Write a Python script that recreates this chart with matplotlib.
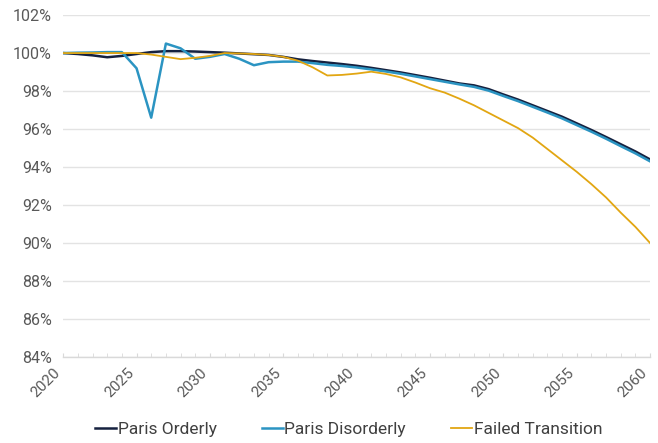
import matplotlib
matplotlib.use("Agg")
import matplotlib.pyplot as plt
import matplotlib.transforms as mtransforms
from matplotlib.ticker import FuncFormatter, MultipleLocator

plt.rcParams['font.family'] = ['Roboto', 'DejaVu Sans']

years = list(range(2020, 2061))

paris_orderly = [
    100.00, 99.95, 99.88, 99.78, 99.85, 99.95, 100.05, 100.10, 100.10, 100.08,
    100.05, 100.02, 99.98, 99.94, 99.90, 99.80, 99.67, 99.58, 99.50, 99.42,
    99.33, 99.22, 99.10, 98.98, 98.84, 98.70, 98.55, 98.40, 98.30, 98.10,
    97.82, 97.55, 97.25, 96.95, 96.65, 96.30, 95.95, 95.58, 95.20, 94.82,
    94.40,
]
paris_disorderly = [
    100.00, 100.02, 100.03, 100.05, 100.05, 99.20, 96.60, 100.50, 100.25, 99.70,
    99.80, 99.95, 99.70, 99.36, 99.52, 99.55, 99.55, 99.47, 99.38, 99.32,
    99.24, 99.14, 99.03, 98.91, 98.77, 98.63, 98.49, 98.35, 98.22, 98.02,
    97.74, 97.47, 97.17, 96.87, 96.56, 96.21, 95.86, 95.49, 95.10, 94.72,
    94.30,
]
failed_transition = [
    100.00, 100.00, 100.00, 100.00, 100.00, 100.00, 99.92, 99.80, 99.68, 99.75,
    99.85, 100.00, 99.98, 99.95, 99.90, 99.80, 99.60, 99.25, 98.82, 98.85,
    98.92, 99.02, 98.90, 98.72, 98.45, 98.15, 97.92, 97.60, 97.25, 96.85,
    96.45, 96.05, 95.55, 94.95, 94.35, 93.75, 93.10, 92.40, 91.60, 90.85,
    90.00,
]

fig = plt.figure(figsize=(6.58, 4.43), dpi=100)
ax = fig.add_axes([0.096, 0.194, 0.892, 0.772])

ax.plot(years, paris_orderly, color='#15213f', linewidth=1.8,
        label='Paris Orderly')
ax.plot(years, paris_disorderly, color='#2b94c2', linewidth=1.8,
        label='Paris Disorderly')
ax.plot(years, failed_transition, color='#e2a612', linewidth=1.3,
        label='Failed Transition')

# axes styling
ax.set_xlim(2020, 2060)
ax.set_ylim(84, 102)
ax.yaxis.set_major_locator(MultipleLocator(2))
ax.yaxis.set_major_formatter(FuncFormatter(lambda v, p: f'{v:.0f}%'))
ax.xaxis.set_major_locator(MultipleLocator(5))
ax.xaxis.set_minor_locator(MultipleLocator(1))

for side in ['top', 'right', 'left']:
    ax.spines[side].set_visible(False)
ax.spines['bottom'].set_color('#d9d9d9')
ax.spines['bottom'].set_linewidth(1)

ax.set_axisbelow(True)
ax.grid(axis='y', color='#e3e3e3', linewidth=1)
ax.tick_params(axis='y', length=0, labelsize=11.5, labelcolor='#595959', pad=8)
ax.tick_params(axis='x', which='both', direction='in', length=3,
               color='#d9d9d9', labelsize=11, labelcolor='#595959')
# shift the rotated year labels a bit left/down like the original
offset = mtransforms.ScaledTranslation(-7 / 72, -3 / 72, fig.dpi_scale_trans)
for lbl in ax.get_xticklabels():
    lbl.set_rotation(45)
    lbl.set_ha('right')
    lbl.set_rotation_mode('anchor')
    lbl.set_transform(lbl.get_transform() + offset)

legend = fig.legend(loc='center', bbox_to_anchor=(0.53, 0.03), ncol=3,
                    frameon=False, fontsize=12.5, handlelength=1.2,
                    handletextpad=0.1, columnspacing=2.6)
for text in legend.get_texts():
    text.set_color('#404040')

fig.savefig('out.png', dpi=100)
plt.close()
